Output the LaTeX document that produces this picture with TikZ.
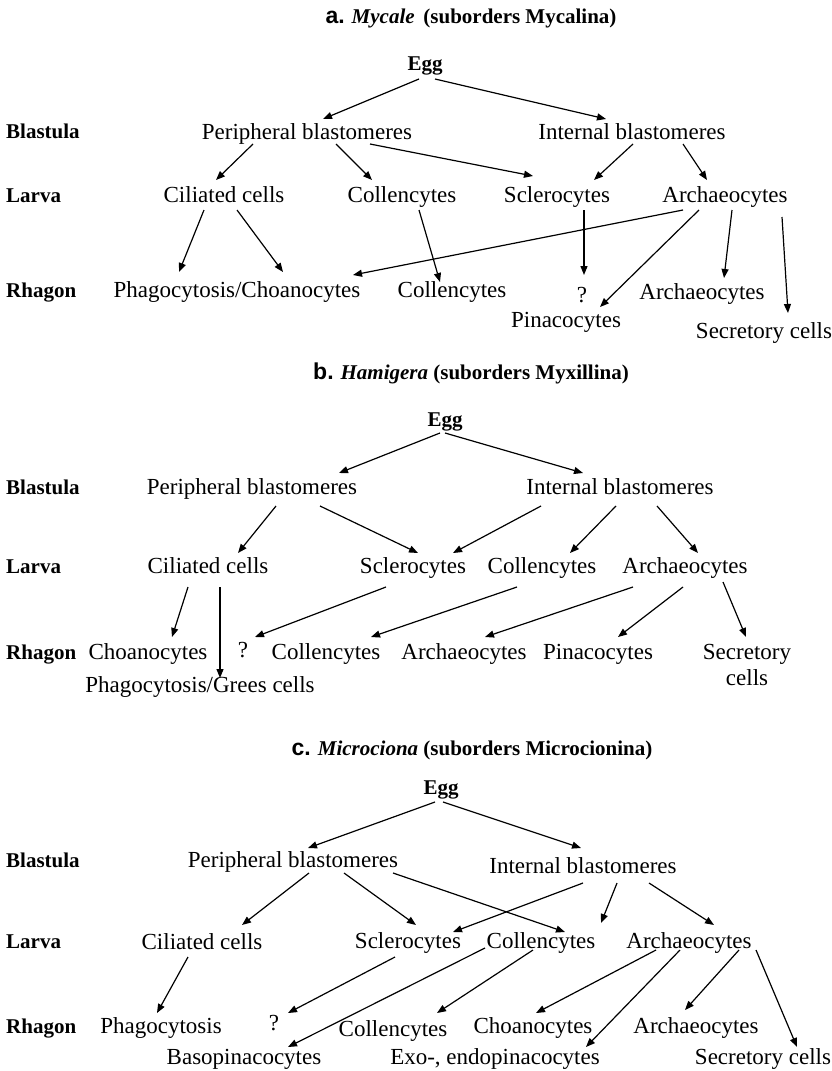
\documentclass[tikz,border=0pt]{standalone}
\usepackage{fontspec}
\setmainfont{Liberation Serif}
\newfontfamily\sansbf{Liberation Sans}[BoldFont={Liberation Sans Bold}]
\usetikzlibrary{arrows.meta,calc}
\begin{document}
\begin{tikzpicture}[x=1pt,y=-1pt,
  tx/.style={anchor=base,inner sep=0pt,font=\fontsize{23}{26}\selectfont},
  lb/.style={anchor=base west,inner sep=0pt,font=\fontsize{21}{24}\selectfont\bfseries},
  eg/.style={anchor=base,inner sep=0pt,font=\fontsize{21}{24}\selectfont\bfseries},
  ttl/.style={anchor=base,inner sep=0pt,font=\fontsize{21}{24}\selectfont\bfseries},
  arr/.style={-{Triangle[length=9pt,width=7pt]},line width=1.2pt}]
\useasboundingbox (0,0) rectangle (832,1071);
\newcommand\tl[1]{{\sansbf\bfseries\fontsize{23}{24}\selectfont #1.}}
% ---------------- panel a
\node[ttl] (ta) at (471,23) {\tl{a} \textit{Mycale}\, (suborders Mycalina)};
\node[eg] (ea) at (425,70) {Egg};
\node[lb] (bla) at (6,138) {Blastula};
\node[lb] (lla) at (6,202) {Larva};
\node[lb] (rla) at (6,297) {Rhagon};
\node[tx] (pa) at (307,139) {Peripheral blastomeres};
\node[tx] (ia) at (632,139) {Internal blastomeres};
\node[tx] (ca1) at (224,202) {Ciliated cells};
\node[tx] (co1) at (402,202) {Collencytes};
\node[tx] (sc1) at (557,202) {Sclerocytes};
\node[tx] (ar1) at (725,202) {Archaeocytes};
\node[tx] (ph1) at (237,297) {Phagocytosis/Choanocytes};
\node[tx] (cr1) at (452,297) {Collencytes};
\node[tx] (q1) at (582,302) {?};
\node[tx] (pi1) at (566,327) {Pinacocytes};
\node[tx] (ar2) at (702,299) {Archaeocytes};
\node[tx] (se1) at (764,338) {Secretory cells};
\draw[arr] ($(ea.base)+(-6,9)$) -- ($(pa.base)+(16,-20)$);
\draw[arr] ($(ea.base)+(10,9)$) -- ($(ia.base)+(-26,-20)$);
\draw[arr] ($(pa.base)+(-54,5)$) -- ($(ca1.base)+(-8,-22)$);
\draw[arr] ($(pa.base)+(29,5)$) -- ($(co1.base)+(-30,-22)$);
\draw[arr] ($(pa.base)+(63,5)$) -- ($(sc1.base)+(-24,-26)$);
\draw[arr] ($(ia.base)+(1,5)$) -- ($(sc1.base)+(37,-22)$);
\draw[arr] ($(ia.base)+(51,5)$) -- ($(ar1.base)+(-18,-22)$);
\draw[arr] ($(ca1.base)+(-20,8)$) -- ($(ph1.base)+(-58,-25)$);
\draw[arr] ($(ca1.base)+(13,8)$) -- ($(ph1.base)+(46,-25)$);
\draw[arr] ($(co1.base)+(17,8)$) -- ($(cr1.base)+(-12,-15)$);
\draw[arr] ($(ar1.base)+(-42,8)$) -- ($(ph1.base)+(116,-22)$);
\draw[arr] ($(sc1.base)+(27,8)$) -- ($(q1.base)+(2,-27)$);
\draw[arr] ($(ar1.base)+(-26,8)$) -- ($(pi1.base)+(34,-20)$);
\draw[arr] ($(ar1.base)+(7,8)$) -- ($(ar2.base)+(22,-21)$);
\draw[arr] ($(ar1.base)+(57,15)$) -- ($(se1.base)+(24,-25)$);
% ---------------- panel b
\node[ttl] (tb) at (471,379) {\tl{b} \textit{Hamigera} (suborders Myxillina)};
\node[eg] (eb) at (445,426) {Egg};
\node[lb] (blb) at (6,494) {Blastula};
\node[lb] (llb) at (6,573) {Larva};
\node[lb] (rlb) at (6,659) {Rhagon};
\node[tx] (pb) at (252,494) {Peripheral blastomeres};
\node[tx] (ib) at (620,494) {Internal blastomeres};
\node[tx] (cb1) at (208,573) {Ciliated cells};
\node[tx] (sb1) at (413,573) {Sclerocytes};
\node[tx] (ob1) at (542,573) {Collencytes};
\node[tx] (ab1) at (685,573) {Archaeocytes};
\node[tx] (chb) at (148,659) {Choanocytes};
\node[tx] (qb) at (243,657) {?};
\node[tx] (crb) at (326,659) {Collencytes};
\node[tx] (arb) at (464,659) {Archaeocytes};
\node[tx] (pib) at (598,659) {Pinacocytes};
\node[tx] (seb) at (747,659) {\begin{tabular}[t]{@{}c@{}}Secretory\\cells\end{tabular}};
\node[tx] (phb) at (200,692) {Phagocytosis/Grees cells};
\draw[arr] ($(eb.base)+(-5,7)$) -- ($(pb.base)+(87,-21)$);
\draw[arr] ($(eb.base)+(0,7)$) -- ($(ib.base)+(-37,-21)$);
\draw[arr] ($(pb.base)+(24,12)$) -- ($(cb1.base)+(30,-20)$);
\draw[arr] ($(pb.base)+(68,12)$) -- ($(sb1.base)+(5,-20)$);
\draw[arr] ($(ib.base)+(-79,12)$) -- ($(sb1.base)+(40,-20)$);
\draw[arr] ($(ib.base)+(-4,12)$) -- ($(ob1.base)+(28,-20)$);
\draw[arr] ($(ib.base)+(37,12)$) -- ($(ab1.base)+(13,-20)$);
\draw[arr] ($(cb1.base)+(-20,14)$) -- ($(chb.base)+(24,-22)$);
\draw[arr] ($(cb1.base)+(12,14)$) -- ($(phb.base)+(20,-14)$);
\draw[arr] ($(sb1.base)+(-27,14)$) -- ($(qb.base)+(12,-20)$);
\draw[arr] ($(ob1.base)+(-25,14)$) -- ($(crb.base)+(45,-22)$);
\draw[arr] ($(ab1.base)+(-52,14)$) -- ($(arb.base)+(21,-22)$);
\draw[arr] ($(ab1.base)+(-2,14)$) -- ($(pib.base)+(20,-22)$);
\draw[arr] ($(ab1.base)+(38,9)$) -- ($(seb.base)+(-1,-22)$);
% ---------------- panel c
\node[ttl] (tc) at (472,755) {\tl{c} \textit{Microciona} (suborders Microcionina)};
\node[eg] (ec) at (441,794) {Egg};
\node[lb] (blc) at (6,867) {Blastula};
\node[lb] (llc) at (6,948) {Larva};
\node[lb] (rlc) at (6,1033) {Rhagon};
\node[tx] (pc) at (293,867) {Peripheral blastomeres};
\node[tx] (ic) at (583,873) {Internal blastomeres};
\node[tx] (cc1) at (202,949) {Ciliated cells};
\node[tx] (scc) at (408,948) {Sclerocytes};
\node[tx] (oc1) at (541,948) {Collencytes};
\node[tx] (ac1) at (689,948) {Archaeocytes};
\node[tx] (phc) at (161,1033) {Phagocytosis};
\node[tx] (qc) at (274,1030) {?};
\node[tx] (crc) at (393,1036) {Collencytes};
\node[tx] (chc) at (533,1033) {Choanocytes};
\node[tx] (arc) at (696,1033) {Archaeocytes};
\node[tx] (bac) at (244,1064) {Basopinacocytes};
\node[tx] (exc) at (495,1064) {Exo-, endopinacocytes};
\node[tx] (sec) at (763,1064) {Secretory cells};
\draw[arr] ($(ec.base)+(-6,8)$) -- ($(pc.base)+(15,-19)$);
\draw[arr] ($(ec.base)+(2,8)$) -- ($(ic.base)+(-2,-25)$);
\draw[arr] ($(pc.base)+(16,6)$) -- ($(cc1.base)+(40,-24)$);
\draw[arr] ($(pc.base)+(51,6)$) -- ($(scc.base)+(8,-23)$);
\draw[arr] ($(pc.base)+(100,6)$) -- ($(oc1.base)+(24,-16)$);
\draw[arr] ($(ic.base)+(0,10)$) -- ($(scc.base)+(45,-16)$);
\draw[arr] ($(ic.base)+(34,10)$) -- ($(oc1.base)+(60,-25)$);
\draw[arr] ($(ic.base)+(66,10)$) -- ($(ac1.base)+(25,-23)$);
\draw[arr] ($(cc1.base)+(-14,8)$) -- ($(phc.base)+(-4,-20)$);
\draw[arr] ($(scc.base)+(-13,9)$) -- ($(qc.base)+(14,-17)$);
\draw[arr] ($(oc1.base)+(-56,0)$) -- ($(bac.base)+(44,-17)$);
\draw[arr] ($(oc1.base)+(-8,2)$) -- ($(crc.base)+(44,-23)$);
\draw[arr] ($(ac1.base)+(-33,2)$) -- ($(chc.base)+(3,-20)$);
\draw[arr] ($(ac1.base)+(-9,2)$) -- ($(exc.base)+(91,-17)$);
\draw[arr] ($(ac1.base)+(50,2)$) -- ($(arc.base)+(-11,-23)$);
\draw[arr] ($(ac1.base)+(67,2)$) -- ($(sec.base)+(34,-17)$);
\end{tikzpicture}
\end{document}
